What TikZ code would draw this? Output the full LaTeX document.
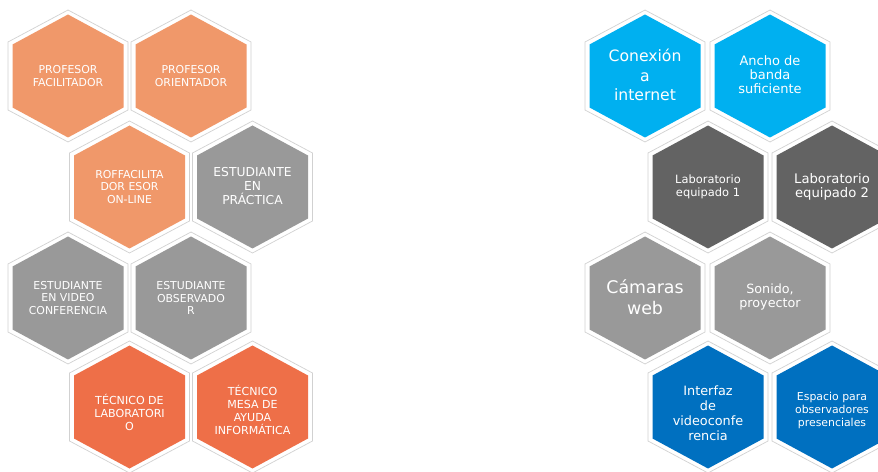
\documentclass[tikz,border=0pt]{standalone}
\usepackage{fontspec}
\setmainfont{DejaVu Sans}
\definecolor{naranjaclaro}{HTML}{F0986A}
\definecolor{grismedio}{HTML}{999999}
\definecolor{naranjafuerte}{HTML}{EE6F48}
\definecolor{celeste}{HTML}{00B0F0}
\definecolor{grisoscuro}{HTML}{636363}
\definecolor{azul}{HTML}{0070C0}
\tikzset{
  hexborde/.style={fill=white, draw=black!18, line width=0.4pt},
  rotulo/.style={text=white, align=center, inner sep=0pt},
  chico/.style={rotulo, font=\fontsize{6.2}{7}\selectfont},
}
\begin{document}
\begin{tikzpicture}[x=0.02cm,y=-0.02cm]
\useasboundingbox (0,0) rectangle (878,472);
\clip (0,0) rectangle (878,472);
% panal de celdas
\foreach \x/\y/\col in {68/76/naranjaclaro, 191/76/naranjaclaro,
    129.5/187/naranjaclaro, 252.5/187/grismedio,
    68/298/grismedio, 191/298/grismedio,
    129.5/407/naranjafuerte, 252.5/407/naranjafuerte,
    645/76/celeste, 770/76/celeste,
    708/187/grisoscuro, 832/187/grisoscuro,
    645/298/grismedio, 770/298/grismedio,
    708/407/azul, 832/407/azul}{
  \draw[hexborde, shift={(\x,\y)}] (0,-66) -- (60,-34) -- (60,34) -- (0,66) -- (-60,34) -- (-60,-34) -- cycle;
  \fill[fill=\col, shift={(\x,\y)}] (0,-61.5) -- (55.5,-31.5) -- (55.5,31.5) -- (0,61.5) -- (-55.5,31.5) -- (-55.5,-31.5) -- cycle;
}
% actores
\node[chico] (pfac) at (68,76) {PROFESOR\\FACILITADOR};
\node[chico] (pori) at (191,76) {PROFESOR\\ORIENTADOR};
\node[chico] (pofl) at (129.5,187) {ROFFACILITA\\DOR ESOR\\ON-LINE};
\node[rotulo, font=\fontsize{7}{8}\selectfont] (eprac) at (252.5,186) {ESTUDIANTE\\EN\\PRÁCTICA};
\node[chico] (evid) at (68,298) {ESTUDIANTE\\EN VIDEO\\CONFERENCIA};
\node[chico] (eobs) at (191,298) {ESTUDIANTE\\OBSERVADO\\R};
\node[rotulo, font=\fontsize{6.3}{7.4}\selectfont] (tlab) at (129.5,412) {TÉCNICO DE\\LABORATORI\\O};
\node[rotulo, font=\fontsize{6.3}{7.4}\selectfont] (tmesa) at (252.5,410) {TÉCNICO\\MESA DE\\AYUDA\\INFORMÁTICA};
% recursos
\node[rotulo, font=\fontsize{8.9}{11.3}\selectfont] (conex) at (645,75) {Conexión\\a\\internet};
\node[rotulo, font=\fontsize{7.4}{8}\selectfont] (ancho) at (770,75) {Ancho de\\banda\\suficiente};
\node[rotulo, font=\fontsize{6.5}{7.4}\selectfont] (lab1) at (708,187) {Laboratorio\\equipado 1};
\node[rotulo, font=\fontsize{7.5}{8}\selectfont] (lab2) at (832,187) {Laboratorio\\equipado 2};
\node[rotulo, font=\fontsize{9.9}{12.3}\selectfont] (camw) at (645,297) {Cámaras\\web};
\node[rotulo, font=\fontsize{7.25}{8.5}\selectfont] (sonido) at (770,297) {Sonido,\\proyector};
\node[rotulo, font=\fontsize{7.3}{8.5}\selectfont] (interf) at (708,413) {Interfaz\\de\\videoconfe\\rencia};
\node[rotulo, font=\fontsize{6.2}{7.4}\selectfont] (espacio) at (832,410) {Espacio para\\observadores\\presenciales};
\end{tikzpicture}
\end{document}
